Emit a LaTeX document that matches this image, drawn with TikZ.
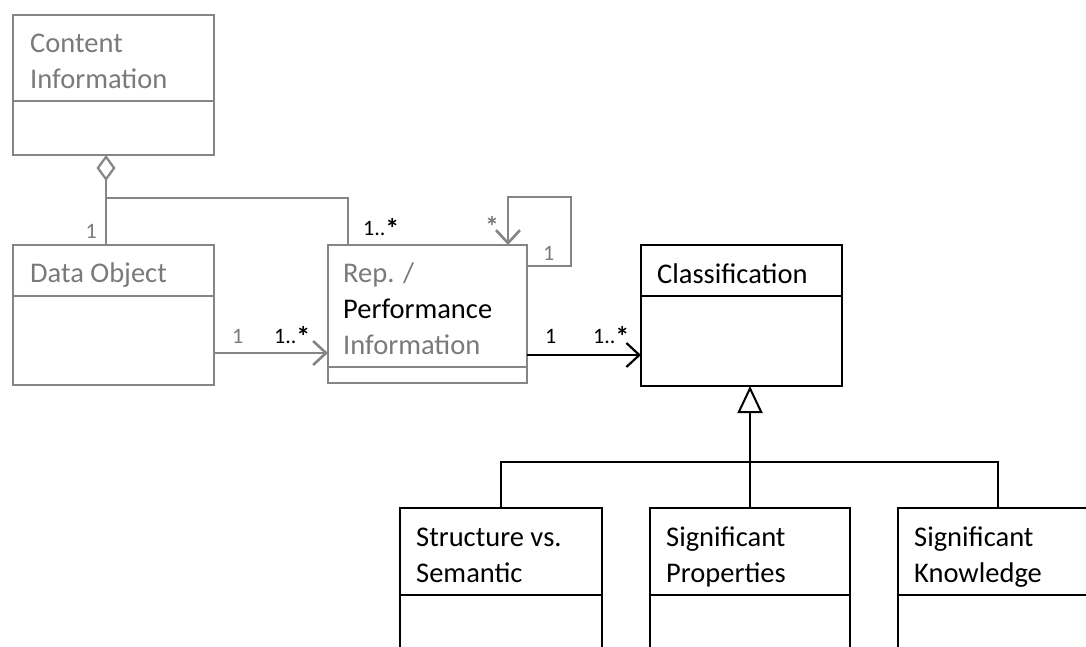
\documentclass[tikz,border=0pt]{standalone}
\usepackage{fontspec}
\setmainfont{Carlito}
\usetikzlibrary{arrows.meta}
\definecolor{umlgray}{HTML}{858585}
\definecolor{txtgray}{HTML}{7A7A7A}
\newcommand\umlast{{\fontsize{28}{28}\selectfont\bfseries\raisebox{-3.5pt}{*}}}
\begin{document}
\begin{tikzpicture}[x=1pt,y=-1pt,
  box/.style={draw, inner sep=0pt, outer sep=0pt, anchor=north west, fill=white},
  graybox/.style={box, draw=umlgray, line width=2.6pt},
  blackbox/.style={box, draw=black, line width=2.2pt},
  gdiv/.style={draw=umlgray, line width=2pt},
  bdiv/.style={draw=black, line width=1.8pt},
  gline/.style={draw=umlgray, line width=2.6pt},
  bline/.style={draw=black, line width=2.2pt},
  lbl/.style={anchor=base west, inner sep=0pt, font=\fontsize{28.5}{34}\selectfont},
  mult/.style={anchor=base west, inner sep=0pt, font=\fontsize{22}{26}\selectfont},
  barb/.style={-{Straight Barb[length=13pt, width=24pt]}}
]
\clip (0,0) rectangle (1086,646);
\fill[white] (0,0) rectangle (1086,646);

% boxes
\node[graybox, minimum width=201pt, minimum height=140pt] (ci) at (13,15) {};
\node[graybox, minimum width=201pt, minimum height=140pt] (do) at (13,245) {};
\node[graybox, minimum width=199pt, minimum height=138pt] (rep) at (328,245) {};
\node[blackbox, minimum width=201pt, minimum height=141pt] (cls) at (641,245) {};
\node[blackbox, minimum width=202pt, minimum height=200pt] (ss) at (400,508) {};
\node[blackbox, minimum width=200pt, minimum height=200pt] (sp) at (650,508) {};
\node[blackbox, minimum width=200pt, minimum height=200pt] (sk) at (898,508) {};

% dividers
\draw[gdiv] (ci.west |- 0,101) -- (ci.east |- 0,101);
\draw[gdiv] (do.west |- 0,296) -- (do.east |- 0,296);
\draw[gdiv] (rep.west |- 0,367) -- (rep.east |- 0,367);
\draw[bdiv] (cls.west |- 0,296) -- (cls.east |- 0,296);
\draw[bdiv] (ss.west |- 0,595) -- (ss.east |- 0,595);
\draw[bdiv] (sp.west |- 0,595) -- (sp.east |- 0,595);
\draw[bdiv] (sk.west |- 0,595) -- (sk.east |- 0,595);

% box texts
\node[lbl, txtgray] (ci1) at (30,52) {Content};
\node[lbl, txtgray] (ci2) at (30,88) {Information};
\node[lbl, txtgray] (do1) at (30,282) {Data Object};
\node[lbl, txtgray] (rep1) at (343,282) {Rep. /};
\node[lbl, black] (rep2) at (343,318) {Performance};
\node[lbl, txtgray] (rep3) at (343,354) {Information};
\node[lbl] (cls1) at (657,283) {Classification};
\node[lbl] (ss1) at (416,546) {Structure vs.};
\node[lbl] (ss2) at (416,582) {Semantic};
\node[lbl] (sp1) at (666,546) {Significant};
\node[lbl] (sp2) at (666,582) {Properties};
\node[lbl] (sk1) at (914,546) {Significant};
\node[lbl] (sk2) at (914,582) {Knowledge};

% helper coordinates
\coordinate (aggx) at (106,198);
\coordinate (brx) at (348,198);
\coordinate (lpa) at (571,197);
\coordinate (lpb) at (508,197);
\coordinate (hy) at (0,462);

% connectors
\draw[gline, -{Diamond[open, length=26pt, width=19pt, line width=2.2pt]}] (do.north -| aggx) -- (ci.south -| aggx);
\draw[gline] (aggx) -- (brx) -- (rep.north -| brx);
\draw[gline, barb] (do.east |- 0,353) -- (rep.west |- 0,353);
\draw[gline, barb] (rep.east |- 0,266) -| (lpa) -- (lpb) -- (rep.north -| lpb);
\draw[bline, barb] (rep.east |- 0,355) -- (cls.west |- 0,355);
\draw[bline, -{Triangle[open, length=27pt, width=25pt, line width=2pt]}] (sp.north) -- (cls.south -| sp.north);
\draw[bline] (ss.north) -- (ss.north |- hy) -- (sk.north |- hy) -- (sk.north);

% multiplicities
\node[mult, txtgray, anchor=base east] (m1) at (97,238) {1};
\node[mult] (m2) at (363,235) {1..\umlast};
\node[mult, txtgray] (m3) at (485,233) {\umlast};
\node[mult, txtgray] (m4) at (543,260) {1};
\node[mult, txtgray] (m5) at (232,343) {1};
\node[mult] (m6) at (274,343) {1..\umlast};
\node[mult] (m7) at (545,343) {1};
\node[mult] (m8) at (593,343) {1..\umlast};
\end{tikzpicture}
\end{document}
